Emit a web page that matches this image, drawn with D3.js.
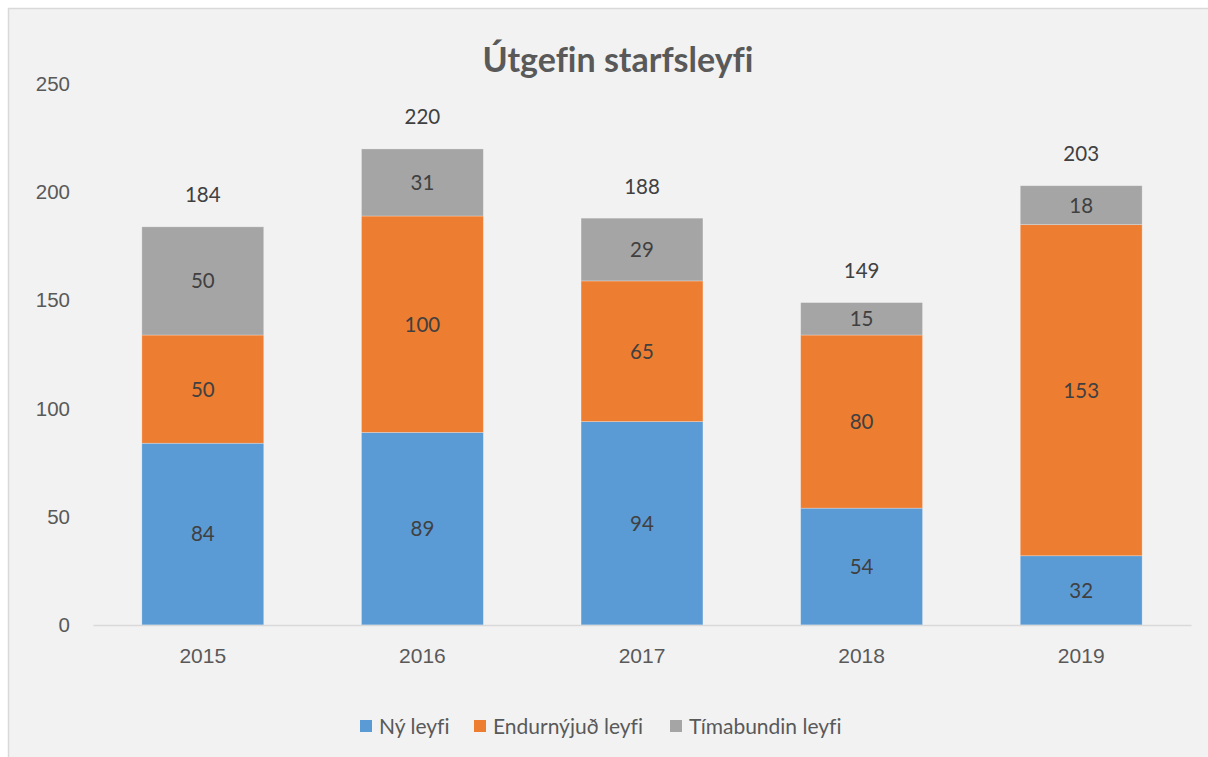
<!DOCTYPE html>
<html>
<head>
<meta charset="utf-8">
<script src="https://cdn.jsdelivr.net/npm/d3@7"></script>
<style>
  html, body { margin: 0; padding: 0; background: #ffffff; }
  svg { display: block; font-family: Lato, "Open Sans", sans-serif; font-variant-ligatures: none; }
</style>
</head>
<body>
<svg id="chart" width="1208" height="757"></svg>
<script>
const years = ["2015", "2016", "2017", "2018", "2019"];
const nyLeyfi = [84, 89, 94, 54, 32];
const endurnyjud = [50, 100, 65, 80, 153];
const timabundin = [50, 31, 29, 15, 18];
const totals = [184, 220, 188, 149, 203];
const seriesNames = ["Ný leyfi", "Endurnýjuð leyfi", "Tímabundin leyfi"];
const colors = ["#5b9bd5", "#ed7d31", "#a5a5a5"];
const yTicks = [0, 50, 100, 150, 200, 250];

const width = 1208;
const height = 757;
const svg = d3.select("#chart");

// chart area background + border
svg.append("rect")
  .attr("x", 8.5).attr("y", 8.5)
  .attr("width", width).attr("height", height)
  .attr("fill", "#f2f2f2")
  .attr("stroke", "#d9d9d9")
  .attr("stroke-width", 1.5);

const plot = { left: 93, right: 1191, top: 84, bottom: 625 };

const x = d3.scaleBand()
  .domain(years)
  .range([plot.left, plot.right])
  .paddingInner(0.445)
  .paddingOuter(0.2225);

const y = d3.scaleLinear()
  .domain([0, 250])
  .range([plot.bottom, plot.top]);

const table = years.map((yr, i) => ({
  year: yr,
  s0: nyLeyfi[i],
  s1: endurnyjud[i],
  s2: timabundin[i],
  total: totals[i]
}));

const stacked = d3.stack().keys(["s0", "s1", "s2"])(table);

// y axis labels (no gridlines)
const yAxis = d3.axisLeft(y).tickValues(yTicks).tickSize(0).tickPadding(0);
svg.append("g")
  .attr("transform", `translate(70,0)`)
  .call(yAxis)
  .call((g) => g.select(".domain").remove())
  .selectAll("text")
  .attr("font-size", 20.5)
  .attr("fill", "#595959");

// bars
const layers = svg.append("g")
  .selectAll("g")
  .data(stacked)
  .join("g")
  .attr("fill", (d, i) => colors[i]);

layers.selectAll("rect")
  .data((d) => d)
  .join("rect")
  .attr("x", (d) => x(d.data.year))
  .attr("y", (d) => y(d[1]))
  .attr("width", x.bandwidth())
  .attr("height", (d) => y(d[0]) - y(d[1]))
  .attr("stroke", "#ffffff")
  .attr("stroke-opacity", 0.35)
  .attr("stroke-width", 0.75);

// segment labels
layers.selectAll("text")
  .data((d) => d)
  .join("text")
  .attr("x", (d) => x(d.data.year) + x.bandwidth() / 2)
  .attr("y", (d) => (y(d[0]) + y(d[1])) / 2)
  .attr("dy", "0.36em")
  .attr("text-anchor", "middle")
  .attr("font-size", 20.5)
  .attr("fill", "#404040")
  .text((d) => d[1] - d[0]);

// totals above bars
svg.append("g")
  .selectAll("text")
  .data(table)
  .join("text")
  .attr("x", (d) => x(d.year) + x.bandwidth() / 2)
  .attr("y", (d) => y(d.total) - 32)
  .attr("dy", "0.36em")
  .attr("text-anchor", "middle")
  .attr("font-size", 20.5)
  .attr("fill", "#404040")
  .text((d) => d.total);

// x axis
const xAxis = d3.axisBottom(x).tickSize(0).tickPadding(23);
svg.append("g")
  .attr("transform", `translate(0,${plot.bottom})`)
  .call(xAxis)
  .call((g) => g.select(".domain").attr("stroke", "#d9d9d9").attr("stroke-width", 1.5))
  .selectAll("text")
  .attr("font-size", 21)
  .attr("fill", "#595959");

// title
svg.append("text")
  .attr("x", 618)
  .attr("y", 60)
  .attr("dy", "0.36em")
  .attr("text-anchor", "middle")
  .attr("font-size", 34)
  .attr("font-weight", "bold")
  .attr("fill", "#595959")
  .text("Útgefin starfsleyfi");

// legend
const legendX = [360, 474, 670];
const legend = svg.append("g")
  .selectAll("g")
  .data(seriesNames)
  .join("g")
  .attr("transform", (d, i) => `translate(${legendX[i]},726)`);

legend.append("rect")
  .attr("x", 0).attr("y", -6)
  .attr("width", 12).attr("height", 12)
  .attr("fill", (d, i) => colors[i]);

legend.append("text")
  .attr("x", 19)
  .attr("dy", "0.36em")
  .attr("font-size", 21)
  .attr("fill", "#595959")
  .text((d) => d);
</script>
</body>
</html>
